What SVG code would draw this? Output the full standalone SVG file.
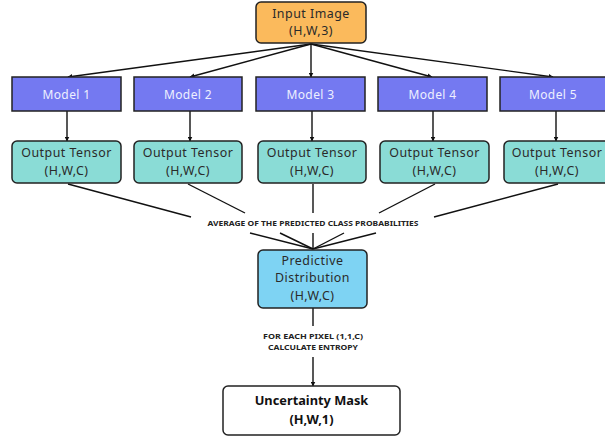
<svg xmlns="http://www.w3.org/2000/svg" width="605" height="436" viewBox="0 0 605 436">
<defs>
<marker id="ah" viewBox="0 0 10 10" refX="9" refY="5" markerWidth="5" markerHeight="5" orient="auto" markerUnits="userSpaceOnUse">
<path d="M0,0 L10,5 L0,10 z" fill="#111"/>
</marker>
<style>
.ln{stroke:#111;stroke-width:1.4;fill:none}
.ar{stroke:#111;stroke-width:1.4;fill:none;marker-end:url(#ah)}
.box{stroke:#222;stroke-width:1.5}
.t{font-family:"Noto Sans","DejaVu Sans",sans-serif;font-size:12.4px;letter-spacing:0.5px;text-anchor:middle;fill:#2a2a2a}
.m{font-family:"Noto Sans","DejaVu Sans",sans-serif;font-size:12px;letter-spacing:0.4px;text-anchor:middle;fill:#eef0ff}
.b{font-family:"Noto Sans","DejaVu Sans",sans-serif;font-weight:bold;font-size:7.5px;text-anchor:middle;fill:#222}
.u{font-family:"Noto Sans","DejaVu Sans",sans-serif;font-weight:bold;font-size:12.8px;text-anchor:middle;fill:#111}
</style>
</defs>
<rect width="605" height="436" fill="#fff"/>
<g id="connectors">
<path class="ar" d="M311,44 L68,77"/>
<path class="ar" d="M311,44 L190,77"/>
<path class="ar" d="M311,44 L311,77"/>
<path class="ar" d="M311,44 L432,77"/>
<path class="ar" d="M311,44 L553,77"/>
<path class="ar" d="M67,111 L67,141"/>
<path class="ar" d="M190,111 L190,141"/>
<path class="ar" d="M312,111 L312,141"/>
<path class="ar" d="M433,111 L433,141"/>
<path class="ar" d="M556,111 L556,141"/>
<path class="ln" d="M68,184 L191,217"/>
<path class="ln" d="M188,184 L245,213"/>
<path class="ln" d="M313,184 L313,213"/>
<path class="ln" d="M435,184 L379,213"/>
<path class="ln" d="M558,184 L434,217"/>
<path class="ln" d="M250,233 L313,249"/>
<path class="ln" d="M280,233 L313,249"/>
<path class="ln" d="M313,233 L313,249"/>
<path class="ln" d="M344,233 L313,249"/>
<path class="ln" d="M376,233 L313,249"/>
<path class="ln" d="M313,308 L313,326"/>
<path class="ar" d="M313,357 L313,386"/>
</g>
<g id="input">
<rect class="box" x="256" y="2" width="110" height="41" rx="5" fill="#FBBA5C"/>
<text class="t" x="311" y="18">Input Image</text>
<text class="t" x="311" y="35">(H,W,3)</text>
</g>
<g id="model1"><rect class="box" x="12" y="77" width="109" height="34" fill="#7479F1"/><text class="m" x="66.5" y="98.5">Model 1</text></g>
<g id="model2"><rect class="box" x="134" y="77" width="108" height="34" fill="#7479F1"/><text class="m" x="188" y="98.5">Model 2</text></g>
<g id="model3"><rect class="box" x="256" y="77" width="109" height="34" fill="#7479F1"/><text class="m" x="310.5" y="98.5">Model 3</text></g>
<g id="model4"><rect class="box" x="378" y="77" width="109" height="34" fill="#7479F1"/><text class="m" x="432.5" y="98.5">Model 4</text></g>
<g id="model5"><rect class="box" x="500" y="77" width="110" height="34" fill="#7479F1"/><text class="m" x="553" y="98.5">Model 5</text></g>
<g id="tensor1"><rect class="box" x="12" y="141" width="109" height="42" rx="5" fill="#8ADCD6"/><text class="t" x="66.5" y="157">Output Tensor</text><text class="t" x="66.5" y="174.5">(H,W,C)</text></g>
<g id="tensor2"><rect class="box" x="134" y="141" width="108" height="42" rx="5" fill="#8ADCD6"/><text class="t" x="188" y="157">Output Tensor</text><text class="t" x="188" y="174.5">(H,W,C)</text></g>
<g id="tensor3"><rect class="box" x="258" y="141" width="108" height="42" rx="5" fill="#8ADCD6"/><text class="t" x="312" y="157">Output Tensor</text><text class="t" x="312" y="174.5">(H,W,C)</text></g>
<g id="tensor4"><rect class="box" x="380" y="141" width="109" height="42" rx="5" fill="#8ADCD6"/><text class="t" x="434.5" y="157">Output Tensor</text><text class="t" x="434.5" y="174.5">(H,W,C)</text></g>
<g id="tensor5"><rect class="box" x="504" y="141" width="108" height="42" rx="5" fill="#8ADCD6"/><text class="t" x="557" y="157">Output Tensor</text><text class="t" x="557" y="174.5">(H,W,C)</text></g>
<g id="label-average"><text class="b" x="313" y="226" textLength="211" lengthAdjust="spacingAndGlyphs">AVERAGE OF THE PREDICTED CLASS PROBABILITIES</text></g>
<g id="predictive">
<rect class="box" x="258" y="250" width="109" height="58" rx="5" fill="#7ED3F3"/>
<text class="t" x="312.5" y="265">Predictive</text>
<text class="t" x="312.5" y="282">Distribution</text>
<text class="t" x="312.5" y="299.5">(H,W,C)</text>
</g>
<g id="label-entropy">
<text class="b" x="313" y="339" textLength="100" lengthAdjust="spacingAndGlyphs">FOR EACH PIXEL (1,1,C)</text>
<text class="b" x="313" y="350" textLength="90" lengthAdjust="spacingAndGlyphs">CALCULATE ENTROPY</text>
</g>
<g id="uncertainty">
<rect class="box" x="223" y="386" width="177" height="49" rx="5" fill="#fff"/>
<text class="u" x="311.5" y="405">Uncertainty Mask</text>
<text class="u" x="311.5" y="424">(H,W,1)</text>
</g>
</svg>
